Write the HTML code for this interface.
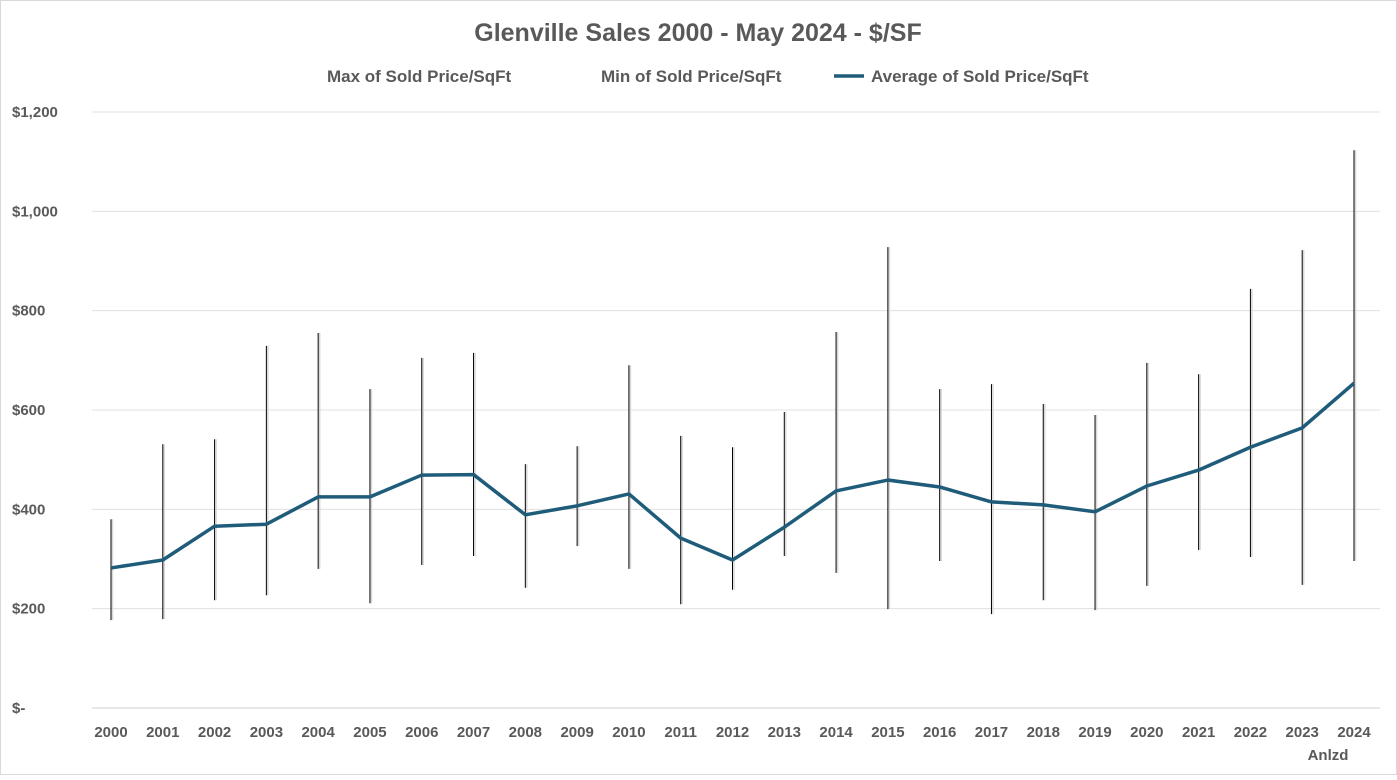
<!DOCTYPE html>
<html><head><meta charset="utf-8"><style>
body{margin:0;background:#fff;font-family:"Liberation Sans",sans-serif;}
svg text{font-family:"Liberation Sans",sans-serif;}
</style></head><body>
<svg id="chart" width="1397" height="775" viewBox="0 0 1397 775" xmlns="http://www.w3.org/2000/svg">
<rect x="0.5" y="0.5" width="1396" height="774" fill="#fff" stroke="#d9d9d9"/>
<text x="698" y="41" text-anchor="middle" font-size="25" font-weight="bold" fill="#595959">Glenville Sales 2000 - May 2024 - $/SF</text>
<g font-size="17" font-weight="bold" fill="#595959">
<text x="327" y="82">Max of Sold Price/SqFt</text>
<text x="601" y="82">Min of Sold Price/SqFt</text>
<line x1="834" y1="76" x2="864" y2="76" stroke="#1f5c7a" stroke-width="3.5"/>
<text x="871" y="82">Average of Sold Price/SqFt</text>
</g>
<g id="grid"></g><g id="ylabels"></g><g id="xlabels"></g><g id="bars"></g><g id="line"></g>
</svg>
<script>
const years=["2000","2001","2002","2003","2004","2005","2006","2007","2008","2009","2010","2011","2012","2013","2014","2015","2016","2017","2018","2019","2020","2021","2022","2023","2024"];
const maxVals=[380,531,541,729,755,642,705,715,491,527,690,548,525,596,757,928,642,652,612,590,695,672,844,922,1123];
const minVals=[177,179,217,227,280,211,288,306,242,326,280,209,238,306,272,199,296,189,217,197,246,318,304,248,296];
const avgVals=[282,298,366,370,425,425,469,470,389,407,431,342,298,364,437,459,445,415,409,395,447,479,525,564,654];
const yTicks=[0,200,400,600,800,1000,1200];
const yTickLabels=["$-","$200","$400","$600","$800","$1,000","$1,200"];
const NS="http://www.w3.org/2000/svg";
const y=v=>708-v*(708-112)/1200;
const x=i=>111+i*(1354-111)/24;
function mk(tag,attrs,parent){const e=document.createElementNS(NS,tag);for(const k in attrs)e.setAttribute(k,attrs[k]);document.getElementById(parent).appendChild(e);return e;}
yTicks.forEach((t,i)=>{
 const g=mk('line',{x1:92,x2:1380,y1:y(t),y2:y(t),stroke:i==0?'#d0d0d0':'#e0e0e0','stroke-width':1},'grid');
 
 
 const l=mk('text',{x:12,y:y(t)+5,'font-size':15,'font-weight':'bold',fill:'#595959'},'ylabels');
 l.textContent=yTickLabels[i];
 
 
});
years.forEach((yr,i)=>{
 const l=mk('text',{x:x(i),y:737,'text-anchor':'middle','font-size':15,'font-weight':'bold',fill:'#595959'},'xlabels');
 l.textContent=yr;
 
 
 const s=mk('line',{x1:x(i)+1.5,x2:x(i)+1.5,y1:y(maxVals[i]),y2:y(minVals[i]),stroke:'#d8d8d8','stroke-width':1.5},'bars');
 
 
 const b=mk('line',{x1:x(i),x2:x(i),y1:y(maxVals[i]),y2:y(minVals[i]),stroke:'#000','stroke-width':1},'bars');
 
 
});
const an=mk('text',{x:1328,y:760,'text-anchor':'middle','font-size':15,'font-weight':'bold',fill:'#595959'},'xlabels');
an.textContent='Anlzd';


const p=mk('polyline',{points:avgVals.map((v,i)=>x(i)+','+y(v)).join(' '),fill:'none',stroke:'#1f5c7a','stroke-width':3.5,'stroke-linejoin':'round'},'line');


</script>
</body></html>
